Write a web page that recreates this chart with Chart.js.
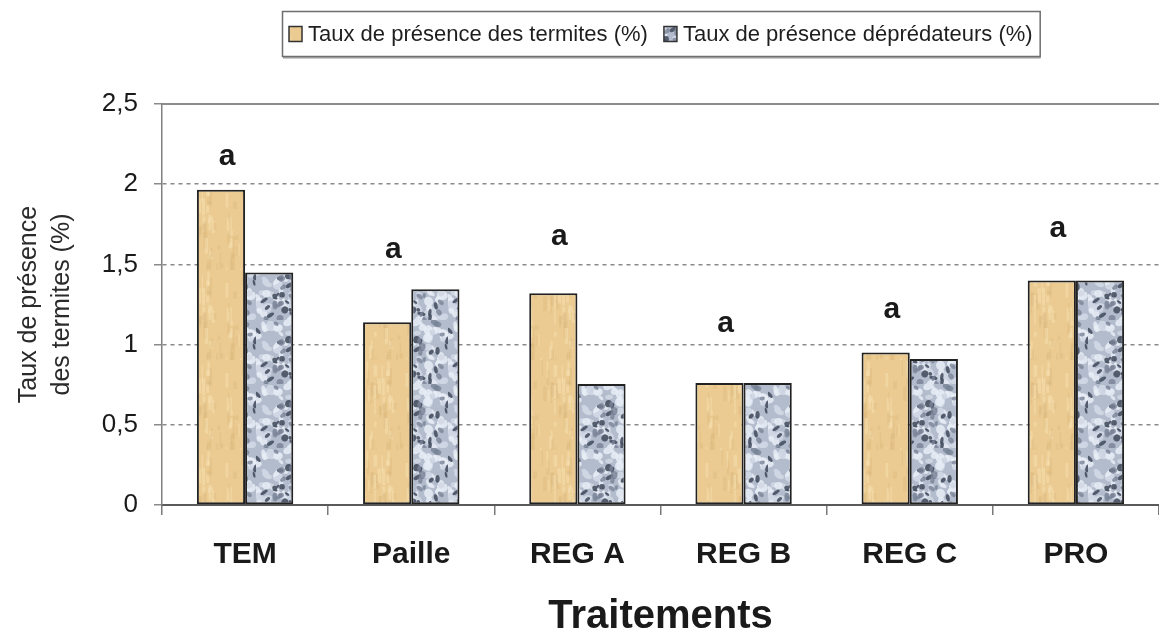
<!DOCTYPE html>
<html>
<head>
<meta charset="utf-8">
<script src="https://cdn.jsdelivr.net/npm/chart.js@4"></script>
<style>
  html, body { margin: 0; padding: 0; background: #fff; }
  #wrap { width: 1159px; height: 637px; position: relative; }
  canvas { display: block; }
</style>
</head>
<body>
<div id="wrap"><canvas id="chartTermites" width="1159" height="637"></canvas></div>
<script>
// donnees
const traitements = ['TEM', 'Paille', 'REG A', 'REG B', 'REG C', 'PRO'];
const termites = [1.965, 1.14, 1.32, 0.76, 0.95, 1.40];
const depredateurs = [1.45, 1.345, 0.755, 0.76, 0.91, 1.40];
const lettres = ['a', 'a', 'a', 'a', 'a', 'a'];
const hauteurLettres = [2.17, 1.59, 1.67, 1.13, 1.22, 1.72];
const ticksY = ['0', '0,5', '1', '1,5', '2', '2,5'];
const nomsSeries = ['Taux de présence des termites (%)', 'Taux de présence déprédateurs (%)'];

const FONT = '"Liberation Sans", Arial, sans-serif';

// petit generateur pour la texture (style seulement)
function lcg(seed) {
    let s = seed;
    return () => { s = (s * 1664525 + 1013904223) % 4294967296; return s / 4294967296; };
}

function motifPapier(ctx) {
    const c = document.createElement('canvas');
    c.width = 60; c.height = 90;
    const g = c.getContext('2d');
    const r = lcg(7);
    g.fillStyle = '#ebcb91';
    g.fillRect(0, 0, 60, 90);
    for (let i = 0; i < 70; i++) {
        g.fillStyle = r() > 0.5 ? 'rgba(248,226,180,0.5)' : 'rgba(214,178,118,0.3)';
        g.fillRect(r() * 60, r() * 90, 1 + r() * 3, 4 + r() * 14);
    }
    return ctx.createPattern(c, 'repeat');
}

function motifGranit(ctx) {
    const c = document.createElement('canvas');
    c.width = 64; c.height = 64;
    const g = c.getContext('2d');
    const r = lcg(42);
    g.fillStyle = '#b3bccd';
    g.fillRect(0, 0, 64, 64);
    // taches claires puis sombres
    for (let i = 0; i < 70; i++) {
        g.fillStyle = r() > 0.4 ? 'rgba(232,237,246,0.85)' : 'rgba(208,215,228,0.9)';
        g.beginPath();
        g.ellipse(r() * 64, r() * 64, 2 + r() * 4, 1.5 + r() * 3, r() * 3, 0, Math.PI * 2);
        g.fill();
    }
    for (let i = 0; i < 45; i++) {
        g.fillStyle = r() > 0.5 ? 'rgba(70,80,98,0.9)' : 'rgba(120,130,150,0.8)';
        g.beginPath();
        g.ellipse(r() * 64, r() * 64, 1.5 + r() * 3, 1 + r() * 2.5, r() * 3, 0, Math.PI * 2);
        g.fill();
    }
    return ctx.createPattern(c, 'repeat');
}

const canvas = document.getElementById('chartTermites');
const ctx = canvas.getContext('2d');
const fonds = [motifPapier(ctx), motifGranit(ctx)];

// lettres au-dessus des groupes + trait du haut
const lettresPlugin = {
    id: 'lettres',
    afterDatasetsDraw(chart) {
        const { ctx, chartArea, scales: { x, y } } = chart;
        ctx.save();
        ctx.strokeStyle = '#8c8c8c';
        ctx.lineWidth = 2;
        ctx.beginPath();
        ctx.moveTo(chartArea.left, y.getPixelForValue(2.5));
        ctx.lineTo(chartArea.right, y.getPixelForValue(2.5));
        ctx.stroke();

        ctx.fillStyle = '#1a1a1a';
        ctx.font = 'bold 30px ' + FONT;
        ctx.textAlign = 'center';
        ctx.textBaseline = 'middle';
        lettres.forEach((l, i) => {
            ctx.fillText(l, x.getPixelForValue(i) - 18, y.getPixelForValue(hauteurLettres[i]));
        });
        ctx.restore();
    }
};

// legende encadree centree sur la zone du graphique
const legendePlugin = {
    id: 'legendeCadre',
    afterDraw(chart) {
        const { ctx, chartArea } = chart;
        ctx.save();
        ctx.font = '22px ' + FONT;
        const sq = 13, gapSq = 6, gapItem = 16, pad = 7;
        const largeurs = nomsSeries.map(t => ctx.measureText(t).width);
        const total = pad * 2 + 2 * (sq + gapSq) + largeurs[0] + largeurs[1] + gapItem;
        const x0 = Math.round((chartArea.left + chartArea.right) / 2 - total / 2);
        const y0 = 11, h = 45;
        ctx.strokeStyle = '#6e6e6e';
        ctx.lineWidth = 1.5;
        ctx.strokeRect(x0 + 0.5, y0 + 0.5, total, h);
        ctx.fillStyle = '#9a9a9a';
        ctx.fillRect(x0 + 1, y0 + h + 1, total, 1.5);

        let cx = x0 + pad;
        const cy = y0 + h / 2;
        nomsSeries.forEach((t, i) => {
            ctx.fillStyle = fonds[i];
            ctx.fillRect(cx, cy - 7, sq, 15);
            ctx.strokeStyle = '#333';
            ctx.lineWidth = 1.5;
            ctx.strokeRect(cx, cy - 7, sq, 15);
            cx += sq + gapSq;
            ctx.fillStyle = '#1e1e1e';
            ctx.textBaseline = 'middle';
            ctx.fillText(t, cx, cy + 1);
            cx += largeurs[i] + gapItem;
        });
        ctx.restore();
    }
};

new Chart(ctx, {
    type: 'bar',
    data: {
        labels: traitements,
        datasets: [{
            label: nomsSeries[0],
            data: termites,
            backgroundColor: fonds[0],
            borderColor: '#222',
            borderWidth: 2,
            borderSkipped: false
        }, {
            label: nomsSeries[1],
            data: depredateurs,
            backgroundColor: fonds[1],
            borderColor: '#222',
            borderWidth: 2,
            borderSkipped: false
        }]
    },
    options: {
        responsive: false,
        animation: false,
        devicePixelRatio: 1,
        layout: { padding: { top: 104, left: 0, right: 0, bottom: 0 } },
        datasets: { bar: { categoryPercentage: 0.58, barPercentage: 1 } },
        plugins: {
            legend: { display: false },
            tooltip: { enabled: false }
        },
        scales: {
            x: {
                grid: { drawOnChartArea: false, drawTicks: true, tickLength: 10, color: '#7a7a7a', lineWidth: 1.5 },
                border: { color: '#5a5a5a', width: 2 },
                ticks: { color: '#1a1a1a', padding: 22, font: { family: FONT, size: 30, weight: 'bold' } },
                title: {
                    display: true,
                    text: 'Traitements',
                    color: '#1a1a1a',
                    font: { family: FONT, size: 40, weight: 'bold', lineHeight: 1 },
                    padding: { top: 0, bottom: 0 }
                },
                afterFit(scale) { scale.height = 132; }
            },
            y: {
                min: 0,
                max: 2.5,
                grid: { color: '#8a8a8a', lineWidth: 1.5, tickLength: 8, drawTicks: true },
                border: { color: '#808080', width: 1.5, dash: [4, 4] },
                ticks: {
                    stepSize: 0.5,
                    padding: 16,
                    color: '#1a1a1a',
                    font: { family: FONT, size: 26 },
                    callback: (v, i) => ticksY[i]
                },
                title: {
                    display: true,
                    text: ['Taux de présence', 'des termites (%)'],
                    color: '#2a2a2a',
                    font: { family: FONT, size: 25, lineHeight: 1.3 },
                    padding: { top: 13, bottom: 0 }
                },
                afterFit(scale) { scale.width = 162; }
            }
        }
    },
    plugins: [lettresPlugin, legendePlugin]
});
</script>
</body>
</html>
